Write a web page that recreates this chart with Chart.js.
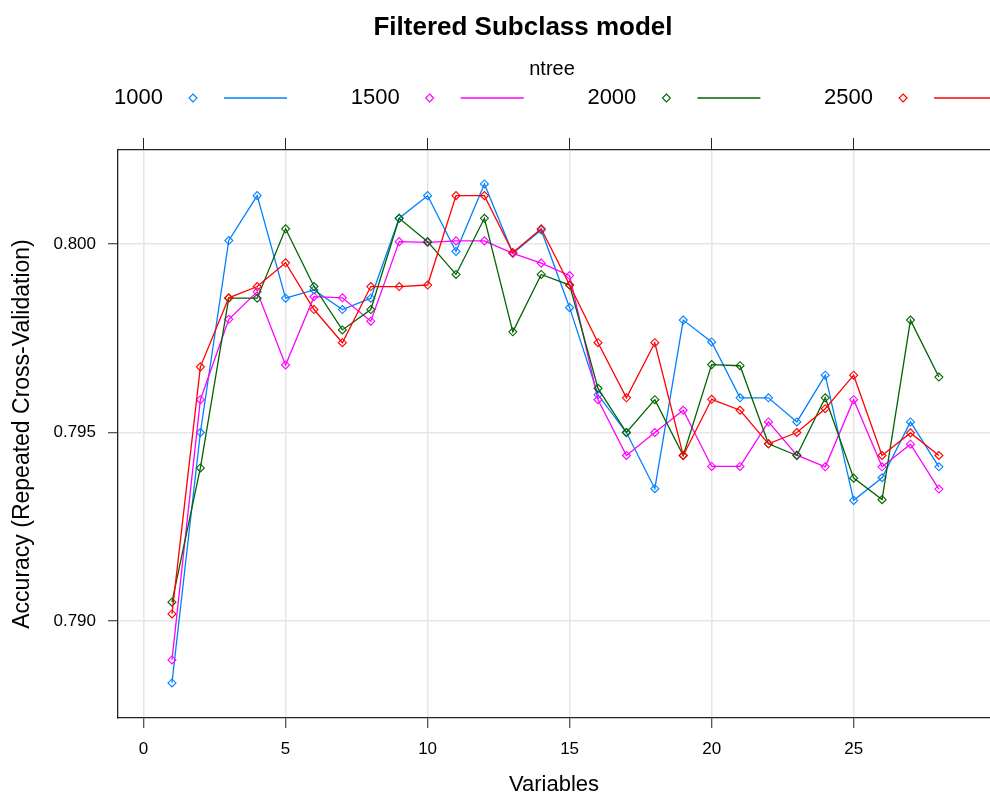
<!DOCTYPE html>
<html>
<head>
<meta charset="utf-8">
<script src="https://cdn.jsdelivr.net/npm/chart.js@4.4.0/dist/chart.umd.min.js"></script>
<style>
  html, body { margin: 0; padding: 0; background: #fff; overflow: hidden; }
  #wrap { width: 990px; height: 798px; position: relative; }
</style>
</head>
<body>
<div id="wrap"><canvas id="accChart"></canvas></div>
<script>
// values
const variables = [1, 2, 3, 4, 5, 6, 7, 8, 9, 10, 11, 12, 13, 14, 15, 16, 17, 18, 19, 20, 21, 22, 23, 24, 25, 26, 27, 28];
const ntreeLevels = ['1000', '1500', '2000', '2500'];

const acc1000 = [0.78836, 0.79500, 0.80009, 0.80128, 0.79856, 0.79878, 0.79826, 0.79856, 0.80068, 0.80128,
                 0.79980, 0.80159, 0.79975, 0.80037, 0.79831, 0.79600, 0.79500, 0.79351, 0.79798, 0.79740,
                 0.79592, 0.79592, 0.79528, 0.79652, 0.79320, 0.79380, 0.79528, 0.79409];
const acc1500 = [0.78897, 0.79587, 0.79800, 0.79873, 0.79679, 0.79860, 0.79857, 0.79795, 0.80006, 0.80004,
                 0.80008, 0.80008, 0.79975, 0.79949, 0.79916, 0.79587, 0.79439, 0.79500, 0.79559, 0.79410,
                 0.79410, 0.79528, 0.79440, 0.79409, 0.79587, 0.79409, 0.79469, 0.79350];
const acc2000 = [0.79050, 0.79406, 0.79856, 0.79856, 0.80040, 0.79887, 0.79772, 0.79826, 0.80068, 0.80006,
                 0.79919, 0.80068, 0.79767, 0.79919, 0.79891, 0.79617, 0.79500, 0.79587, 0.79439, 0.79680,
                 0.79677, 0.79470, 0.79439, 0.79592, 0.79379, 0.79322, 0.79798, 0.79647];
const acc2500 = [0.79019, 0.79674, 0.79857, 0.79887, 0.79950, 0.79826, 0.79738, 0.79887, 0.79887, 0.79891,
                 0.80128, 0.80128, 0.79977, 0.80040, 0.79891, 0.79738, 0.79592, 0.79738, 0.79439, 0.79588,
                 0.79559, 0.79470, 0.79500, 0.79563, 0.79652, 0.79439, 0.79499, 0.79439];

const xTicks = [0, 5, 10, 15, 20, 25];
const yTicks = [0.790, 0.795, 0.800];

// lattice superpose colours
const SERIES_COLORS = ['#0080ff', '#ff00ff', '#006400', '#ff0000'];
const INK = '#000';
const FRAME = '#222';
const GRID = '#e6e6e6';

Chart.defaults.font.family = '"Liberation Sans", Arial, sans-serif';
Chart.defaults.color = INK;

const seriesValues = [acc1000, acc1500, acc2000, acc2500];

const datasets = seriesValues.map((vals, i) => ({
  label: ntreeLevels[i],
  data: variables.map((v, k) => ({ x: v, y: vals[k] })),
  borderColor: SERIES_COLORS[i],
  borderWidth: 1.3,
  pointStyle: 'rectRot',
  pointRadius: 4,
  pointBorderWidth: 1.1,
  pointBorderColor: SERIES_COLORS[i],
  pointBackgroundColor: 'rgba(0,0,0,0)',
  tension: 0,
  fill: false,
  order: seriesValues.length - i,   // last group drawn on top, like lattice
}));

function diamond(ctx, x, y, r) {
  ctx.beginPath();
  ctx.moveTo(x, y - r);
  ctx.lineTo(x + r, y);
  ctx.lineTo(x, y + r);
  ctx.lineTo(x - r, y);
  ctx.closePath();
  ctx.stroke();
}

// title, "ntree" key title and the text/point/line key row above the panel
const headerPlugin = {
  id: 'header',
  afterDraw(chart) {
    const ctx = chart.ctx;
    ctx.save();
    ctx.fillStyle = INK;
    ctx.textBaseline = 'middle';
    ctx.textAlign = 'center';
    ctx.font = 'bold 26px "Liberation Sans", Arial, sans-serif';
    ctx.fillText('Filtered Subclass model', 523, 28);
    ctx.font = '20px "Liberation Sans", Arial, sans-serif';
    ctx.fillText('ntree', 552, 69);

    ctx.font = '22px "Liberation Sans", Arial, sans-serif';
    ctx.textAlign = 'left';
    ntreeLevels.forEach((lab, i) => {
      const x0 = 114 + i * 236.7;
      const y = 98;
      ctx.fillStyle = INK;
      ctx.fillText(lab, x0, y);
      ctx.strokeStyle = SERIES_COLORS[i];
      ctx.lineWidth = 1.1;
      diamond(ctx, x0 + 79, y, 4);
      ctx.lineWidth = 1.6;
      ctx.beginPath();
      ctx.moveTo(x0 + 110, y);
      ctx.lineTo(x0 + 173, y);
      ctx.stroke();
    });
    ctx.restore();
  }
};

new Chart(document.getElementById('accChart'), {
  type: 'line',
  data: { datasets },
  plugins: [headerPlugin],
  options: {
    responsive: true,
    maintainAspectRatio: false,
    animation: false,
    layout: { autoPadding: false, padding: { top: 138, left: 0, right: 0, bottom: 0 } },
    plugins: { legend: { display: false }, title: { display: false }, tooltip: { enabled: false } },
    scales: {
      x: {
        type: 'linear', position: 'bottom', min: -0.9, max: 29.8,
        afterBuildTicks: (s) => { s.ticks = xTicks.map(v => ({ value: v })); },
        afterFit: (s) => { s.height = 80; },
        grid: { color: GRID, lineWidth: 1.5, tickColor: FRAME, tickLength: 10, tickWidth: 1 },
        border: { color: FRAME, width: 1.3 },
        ticks: { font: { size: 17 }, padding: 11, maxRotation: 0, color: INK },
        title: { display: true, text: 'Variables', font: { size: 22 }, padding: { top: 0, bottom: 0 }, color: INK },
      },
      xTop: {
        type: 'linear', position: 'top', min: -0.9, max: 29.8,
        afterBuildTicks: (s) => { s.ticks = xTicks.map(v => ({ value: v })); },
        afterFit: (s) => { s.height = 12; },
        grid: { drawOnChartArea: false, tickColor: FRAME, tickLength: 12, tickWidth: 1 },
        border: { color: FRAME, width: 1.3 },
        ticks: { display: false },
      },
      y: {
        type: 'linear', position: 'left', min: 0.78743, max: 0.80249,
        afterBuildTicks: (s) => { s.ticks = yTicks.map(v => ({ value: v })); },
        afterFit: (s) => { s.width = 118; },
        grid: { color: GRID, lineWidth: 1.5, tickColor: FRAME, tickLength: 10, tickWidth: 1 },
        border: { color: FRAME, width: 1.3 },
        ticks: { font: { size: 17 }, padding: 12, color: INK, callback: (v) => Number(v).toFixed(3) },
        title: { display: true, text: 'Accuracy (Repeated Cross-Validation)', font: { size: 23 }, padding: { top: 9, bottom: 0 }, color: INK },
      },
    },
  },
});
</script>
</body>
</html>
